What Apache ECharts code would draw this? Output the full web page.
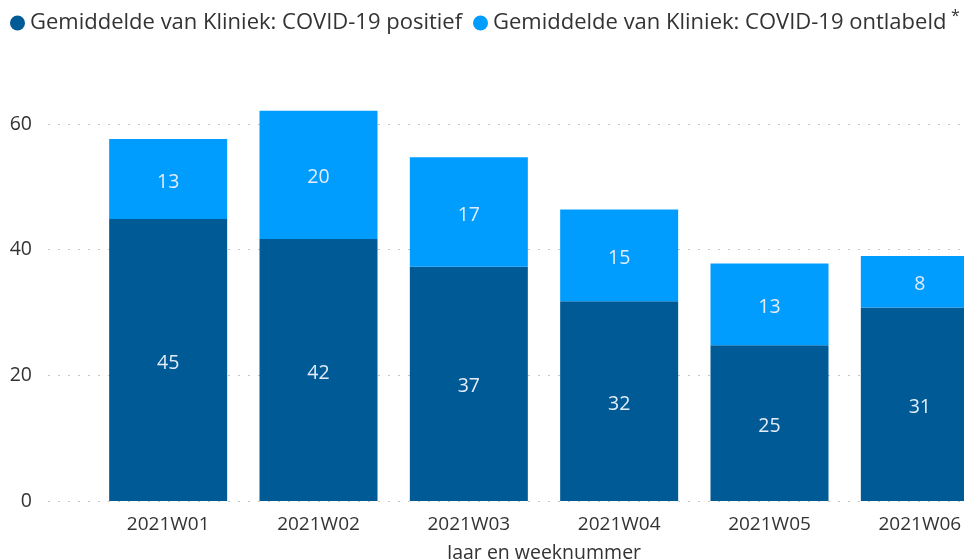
<!DOCTYPE html>
<html><head><meta charset="utf-8">
<script src="https://cdn.jsdelivr.net/npm/echarts@6/dist/echarts.min.js"></script>
<style>html,body{margin:0;padding:0;background:#fff}#c{width:964px;height:559px}</style>
</head><body><div id="c"></div>
<script>
const categories = ['2021W01', '2021W02', '2021W03', '2021W04', '2021W05', '2021W06'];
const positief = [44.9, 41.7, 37.3, 31.8, 24.8, 30.8];
const ontlabeld = [12.7, 20.4, 17.4, 14.6, 13.0, 8.2];
const yTicks = [0, 20, 40, 60];
const seriesNames = ['Gemiddelde van Kliniek: COVID-19 positief', 'Gemiddelde van Kliniek: COVID-19 ontlabeld'];
const xAxisTitle = 'Jaar en weeknummer';

const FONT = '"Open Sans", "Noto Sans", sans-serif';
const TXT = '#333333';
const yMax = 66;
const gTop = 86.3, gBottom = 58;

const chart = echarts.init(document.getElementById('c'));
const labelCfg = {
  show: true, position: 'inside', offset: [0, 3], color: '#e3ecf8', fontSize: 19.5, fontFamily: FONT,
  formatter: p => Math.round(p.value)
};
chart.setOption({
  animation: false,
  textStyle: { fontFamily: FONT },
  legend: [
    { data: [seriesNames[0]], left: 10, top: 12, padding: 0, icon: 'circle', itemWidth: 15, itemHeight: 15,
      selectedMode: false, textStyle: { fontSize: 22, color: TXT, fontFamily: FONT } },
    { data: [seriesNames[1]], left: 473, top: 12, padding: 0, icon: 'circle', itemWidth: 15, itemHeight: 15,
      selectedMode: false, textStyle: { fontSize: 22, color: TXT, fontFamily: FONT } }
  ],
  graphic: [{ type: 'text', left: 951, top: 8, style: { text: '*', fontSize: 16, fill: TXT, fontFamily: FONT } }],
  grid: [
    { left: 48, right: 0, top: gTop, bottom: gBottom, outerBoundsMode: 'none' },
    { left: 93, width: 902, top: gTop, bottom: gBottom, outerBoundsMode: 'none' }
  ],
  xAxis: [
    { gridIndex: 0, type: 'value', show: false, min: 0, max: 1 },
    { gridIndex: 1, type: 'category', data: categories,
      axisLine: { show: false }, axisTick: { show: false },
      axisLabel: { color: TXT, fontSize: 19, margin: 14, fontFamily: FONT },
      name: xAxisTitle, nameLocation: 'middle', nameGap: 42,
      nameTextStyle: { color: TXT, fontSize: 19.5, fontFamily: FONT } }
  ],
  yAxis: [
    { gridIndex: 0, type: 'value', min: yTicks[0], max: yMax, interval: yTicks[1] - yTicks[0],
      axisLine: { show: false }, axisTick: { show: false },
      axisLabel: { color: TXT, fontSize: 19.5, margin: 16, showMaxLabel: false, fontFamily: FONT },
      splitLine: { show: true, showMaxLine: false, lineStyle: { color: '#c8c8c8', width: 1, type: [2, 8] } } },
    { gridIndex: 1, type: 'value', min: yTicks[0], max: yMax, show: false, splitLine: { show: false } }
  ],
  series: [
    { name: seriesNames[0], type: 'bar', stack: 'total', xAxisIndex: 1, yAxisIndex: 1,
      data: positief, barWidth: 118, itemStyle: { color: '#005a96' }, label: labelCfg },
    { name: seriesNames[1], type: 'bar', stack: 'total', xAxisIndex: 1, yAxisIndex: 1,
      data: ontlabeld, barWidth: 118, itemStyle: { color: '#009dff' }, label: labelCfg }
  ]
});
</script></body></html>
